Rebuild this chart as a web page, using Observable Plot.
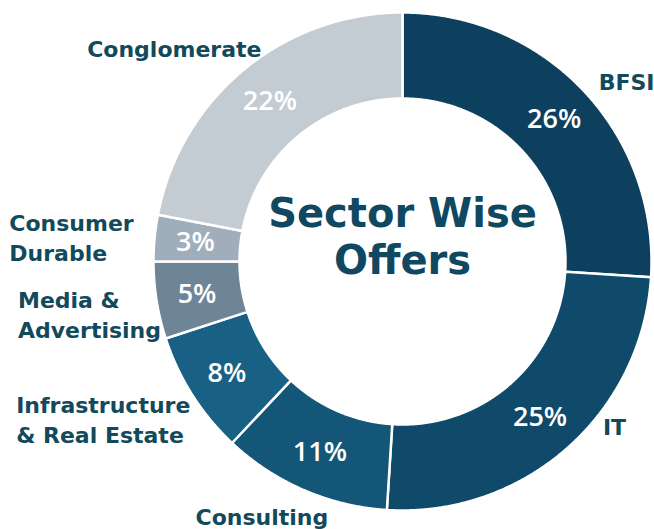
<!DOCTYPE html>
<html>
<head>
<meta charset="utf-8">
<script src="https://cdn.jsdelivr.net/npm/d3@7"></script>
<script src="https://cdn.jsdelivr.net/npm/@observablehq/plot@0.6"></script>
<style>
  html, body { margin: 0; padding: 0; background: #ffffff; }
  #chart svg { display: block; }
</style>
</head>
<body>
<div id="chart"></div>
<script>
// ---- Data ----
const categories = ["BFSI", "IT", "Consulting", "Infrastructure & Real Estate", "Media & Advertising", "Consumer Durable", "Conglomerate"];
const shares = [26, 25, 11, 8, 5, 3, 22];
const labelTexts = ["BFSI", "IT", "Consulting", "Infrastructure\n& Real Estate", "Media &\nAdvertising", "Consumer\nDurable", "Conglomerate"];
const colors = ["#0d3f5f", "#0f4a6b", "#135677", "#196184", "#6e8597", "#a0adba", "#c4ccd3"];
const titleText = "Sector Wise\nOffers";

// ---- Layout ----
const W = 654, H = 529;
const cx = 402, cy = 261;          // ring centre in pixels
const R = 249, r = 163;            // outer / inner radius
const pctRadius = (R + r) / 2 + 2;
// outer label placement: angle (deg, clockwise from 12 o'clock), distance, anchor
const labelPlacement = [
  {angle: 47.3, dist: 267, anchor: "start"},
  {angle: 129.3, dist: 259, anchor: "start"},
  {angle: 209.0, dist: 290, anchor: "middle"},
  {angle: 247.9, dist: 417, anchor: "start"},
  {angle: 262.3, dist: 388, anchor: "start"},
  {angle: 273.6, dist: 394, anchor: "start"},
  {angle: 313.2, dist: 313, anchor: "middle"}
];

const textColor = "#124a5c";
const labelFont = "'DejaVu Sans'";
const pctFont = "'Open Sans'";

// ---- Build slice polygons from the data ----
const arcs = d3.pie().sort(null).value(d => d)(shares);
const polar = (a, rad) => ({x: rad * Math.sin(a), y: -rad * Math.cos(a)});
const slicePoints = [];
arcs.forEach((a, i) => {
  const n = Math.max(4, Math.ceil((a.endAngle - a.startAngle) / 0.005));
  const pts = [];
  for (let k = 0; k <= n; k++) pts.push(polar(a.startAngle + (a.endAngle - a.startAngle) * k / n, R));
  for (let k = n; k >= 0; k--) pts.push(polar(a.startAngle + (a.endAngle - a.startAngle) * k / n, r));
  pts.push(pts[0]);
  pts.forEach(p => slicePoints.push({...p, cat: categories[i]}));
});

const pctLabels = arcs.map((a, i) => {
  const m = (a.startAngle + a.endAngle) / 2;
  return {...polar(m, pctRadius), text: shares[i] + "%"};
});

const outerLabels = labelPlacement.map((p, i) => ({
  ...polar(p.angle * Math.PI / 180, p.dist), text: labelTexts[i], anchor: p.anchor
}));

const textMark = (anchor) => Plot.text(outerLabels.filter(d => d.anchor === anchor), {
  x: "x", y: "y", text: "text", textAnchor: anchor, lineAnchor: "middle",
  lineHeight: 1.37, fontSize: 22, fontWeight: 700, fill: textColor, fontFamily: labelFont
});

const chart = Plot.plot({
  width: W, height: H,
  margin: 0,
  style: {fontFamily: labelFont, background: "#ffffff"},
  x: {domain: [-cx, W - cx], range: [0, W], axis: null},
  y: {domain: [-cy, H - cy], range: [0, H], axis: null},
  color: {domain: categories, range: colors},
  marks: [
    Plot.line(slicePoints, {x: "x", y: "y", z: "cat", fill: "cat", stroke: "#ffffff", strokeWidth: 2.5, curve: "linear", strokeLinejoin: "round"}),
    Plot.text(pctLabels, {x: "x", y: "y", text: "text", fill: "#ffffff", fontSize: 27, fontWeight: 600, fontFamily: pctFont}),
    textMark("start"), textMark("middle"), textMark("end"),
    Plot.text([titleText], {x: 0, y: -26, text: d => d, fontSize: 40, fontWeight: 700, lineHeight: 1.17, lineAnchor: "middle", fill: "#104862", fontFamily: labelFont})
  ]
});
document.getElementById("chart").appendChild(chart);
</script>
</body>
</html>
